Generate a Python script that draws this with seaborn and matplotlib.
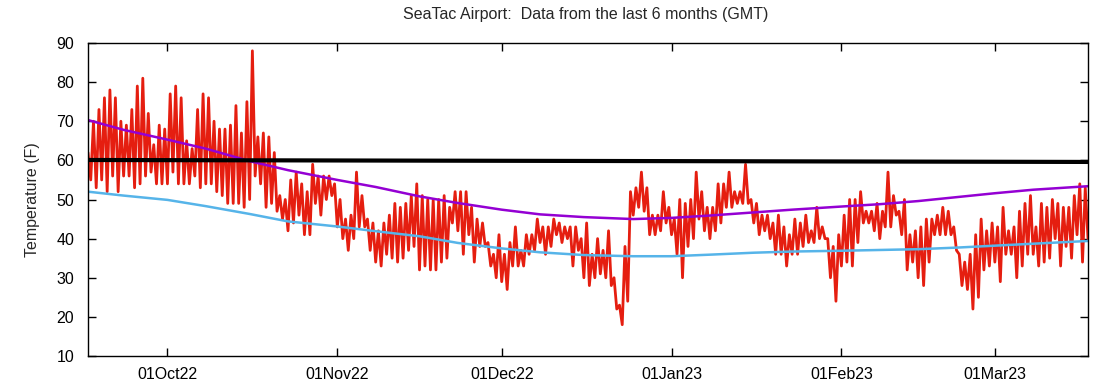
import numpy as np
import pandas as pd
import matplotlib
matplotlib.use("Agg")
import matplotlib.pyplot as plt
import matplotlib.dates as mdates
import seaborn as sns

# === Data ===
# one high/low pair per day, first day starts 16 Sep 2022 12:00 GMT
highs = [62, 70, 73, 76, 78, 76, 70, 69, 73, 79,
         81, 72, 64, 69, 68, 77, 79, 76, 65, 63,
         73, 77, 76, 70, 68, 68, 69, 74, 67, 75,
         88, 66, 67, 66, 62, 51, 50, 55, 57, 54,
         52, 59, 56, 56, 56, 54, 50, 45, 46, 57,
         51, 45, 44, 42, 44, 46, 49, 48, 49, 51,
         54, 51, 50, 50, 50, 51, 48, 52, 52, 52,
         48, 45, 44, 39, 36, 41, 36, 39, 43, 37,
         41, 41, 45, 43, 43, 45, 44, 43, 43, 43,
         40, 44, 36, 40, 37, 42, 30, 23, 38, 52,
         53, 57, 53, 46, 46, 52, 48, 45, 50, 49,
         50, 57, 52, 48, 48, 54, 54, 57, 52, 52,
         59, 50, 49, 46, 46, 44, 46, 43, 41, 45,
         44, 46, 42, 48, 43, 40, 38, 41, 46, 50,
         50, 52, 47, 47, 49, 47, 57, 51, 47, 50,
         41, 42, 43, 45, 45, 46, 48, 47, 43, 36,
         34, 36, 41, 45, 42, 44, 43, 48, 42, 43,
         47, 49, 51, 43, 49, 48, 50, 49, 48, 48,
         51, 54, 53]
lows = [55, 53, 55, 52, 56, 52, 56, 56, 53, 54,
        56, 57, 54, 54, 54, 57, 54, 54, 54, 56,
        53, 54, 54, 52, 51, 49, 49, 49, 48, 50,
        56, 54, 48, 49, 47, 45, 42, 44, 46, 41,
        41, 49, 46, 50, 51, 43, 40, 37, 40, 43,
        43, 37, 34, 33, 36, 35, 34, 35, 37, 38,
        32, 33, 32, 32, 34, 35, 44, 42, 36, 41,
        34, 38, 38, 33, 30, 29, 27, 33, 33, 33,
        36, 37, 39, 36, 38, 41, 39, 40, 33, 37,
        30, 28, 30, 31, 30, 28, 22, 18, 24, 46,
        48, 47, 41, 41, 42, 44, 41, 36, 30, 38,
        40, 45, 42, 40, 42, 44, 48, 48, 49, 49,
        49, 44, 41, 42, 40, 36, 36, 33, 36, 36,
        38, 39, 39, 40, 40, 30, 24, 33, 34, 33,
        39, 44, 44, 42, 40, 43, 43, 46, 41, 32,
        34, 30, 28, 34, 41, 41, 41, 41, 37, 28,
        27, 22, 25, 32, 33, 34, 29, 36, 36, 30,
        33, 36, 36, 33, 34, 35, 40, 33, 38, 35,
        41, 34, 40]

# normal high / low, read roughly once a week
normal_dates = ['2022-09-16 12:00', '2022-09-23 00:00', '2022-10-01 00:00', '2022-10-08 00:00',
                '2022-10-16 00:00', '2022-10-23 00:00', '2022-11-01 00:00', '2022-11-08 00:00',
                '2022-11-16 00:00', '2022-11-23 00:00', '2022-12-01 00:00', '2022-12-08 00:00',
                '2022-12-16 00:00', '2022-12-25 00:00', '2023-01-01 00:00', '2023-01-08 00:00',
                '2023-01-16 00:00', '2023-01-23 00:00', '2023-02-01 00:00', '2023-02-08 00:00',
                '2023-02-15 00:00', '2023-02-22 00:00', '2023-03-01 00:00', '2023-03-08 00:00',
                '2023-03-18 00:00']
normal_high = [70.3, 67.8, 65.3, 63.0, 59.8, 57.5, 55.0, 53.2, 50.8, 49.1, 47.4, 46.2,
               45.5, 45.0, 45.3, 45.9, 46.7, 47.4, 48.2, 48.8, 49.6, 50.6, 51.6, 52.5, 53.4]
normal_low = [52.0, 51.0, 49.9, 48.3, 46.3, 44.4, 43.1, 41.9, 40.6, 38.9, 37.5, 36.5,
              35.8, 35.5, 35.5, 35.9, 36.4, 36.7, 36.9, 37.1, 37.3, 37.7, 38.2, 38.7, 39.4]

ref_dates = ['2022-09-16 12:00', '2023-03-18 00:00']
ref_temp = [60.1, 59.6]

# === Build frames ===
temps = np.column_stack([highs, lows]).ravel()
obs = pd.DataFrame({
    'time': pd.date_range('2022-09-16 12:00', periods=len(temps), freq='12h'),
    'temp': temps,
})
normals = pd.DataFrame({
    'time': pd.to_datetime(normal_dates, format='%Y-%m-%d %H:%M'),
    'high': normal_high,
    'low': normal_low,
})
ref = pd.DataFrame({'time': pd.to_datetime(ref_dates, format='%Y-%m-%d %H:%M'),
                    'temp': ref_temp})

# === Plot ===
sns.set_style('ticks')
plt.rcParams['font.family'] = ['Liberation Sans', 'DejaVu Sans']
fs = 11.5

fig = plt.figure(figsize=(10.96, 3.9), dpi=100)
ax = fig.add_axes([88 / 1096, 1 - 356 / 390, 1000 / 1096, 313 / 390])

sns.lineplot(data=obs, x='time', y='temp', color='#e51e10', lw=2.0,
             estimator=None, ax=ax)
sns.lineplot(data=normals, x='time', y='high', color='#9400d3', lw=1.8, ax=ax)
sns.lineplot(data=normals, x='time', y='low', color='#56b4e9', lw=1.8, ax=ax)
sns.lineplot(data=ref, x='time', y='temp', color='black', lw=3, ax=ax)

ax.set_xlim(pd.Timestamp('2022-09-16 12:00'), pd.Timestamp('2023-03-18'))
ax.set_ylim(10, 90)
ax.set_yticks(range(10, 91, 10))
ax.xaxis.set_major_locator(mdates.MonthLocator())
ax.xaxis.set_major_formatter(mdates.DateFormatter('%d%b%y'))
ax.tick_params(direction='in', top=True, right=True, length=6, width=1,
               labelsize=fs, colors='black')
ax.tick_params(axis='y', pad=10)
ax.tick_params(axis='x', pad=8)
for s in ax.spines.values():
    s.set_visible(True)
    s.set_linewidth(1)
    s.set_color('black')

ax.set_xlabel('')
ax.set_ylabel('Temperature (F)', fontsize=fs, labelpad=12)
fig.text(586 / 1096, 1 - 14 / 390, 'SeaTac Airport:  Data from the last 6 months (GMT)',
         ha='center', va='center', fontsize=fs)

fig.savefig('out.png', dpi=100)
